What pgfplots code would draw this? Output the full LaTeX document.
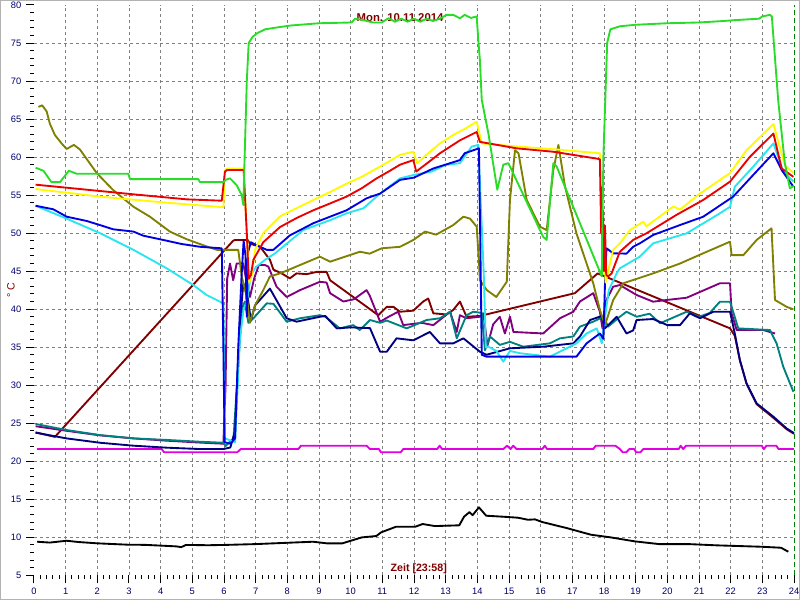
\documentclass[border=0pt]{standalone}
\usepackage{pgfplots}
\pgfplotsset{compat=1.18}
\usepackage{fontspec}
\setmainfont{Liberation Sans}
\definecolor{cgreen}{RGB}{40,220,40}
\definecolor{cyellow}{RGB}{255,250,0}
\definecolor{cred}{RGB}{235,0,0}
\definecolor{cblue}{RGB}{0,0,225}
\definecolor{ccyan}{RGB}{40,230,240}
\definecolor{colive}{RGB}{128,128,0}
\definecolor{cmaroon}{RGB}{128,0,0}
\definecolor{cpurple}{RGB}{128,0,128}
\definecolor{cteal}{RGB}{0,128,128}
\definecolor{cnavy}{RGB}{0,0,128}
\definecolor{cmagenta}{RGB}{225,0,225}
\definecolor{cdkgreen}{RGB}{0,128,0}
\definecolor{darkred}{RGB}{128,0,0}
\definecolor{ticknavy}{RGB}{0,0,110}
\begin{document}
\begin{tikzpicture}
\begin{axis}[
  scale only axis, width=570pt, height=427.7pt,
  xmin=0, xmax=24, ymin=5, ymax=80,
  axis line style={draw=none},
  xtick={0,...,24}, ytick={5,10,...,80},
  minor x tick num=4, minor y tick num=4,
  tick align=outside, xtick pos=left, ytick pos=left,
  major tick length=6pt, minor tick length=3pt,
  tick style={black, line width=0.75pt},
  grid=none,
  extra x ticks={1,...,23}, extra x tick labels={},
  extra y ticks={10,15,...,75}, extra y tick labels={},
  extra tick style={grid=major, major tick length=0pt, minor tick num=0,
     major grid style={gray, line width=0.6pt, dash pattern=on 2.25pt off 2.25pt}},
  ticklabel style={font=\fontsize{7}{8}\selectfont, text=ticknavy},
  /pgf/number format/assume math mode=true,
  ylabel={°\,C},
  ylabel style={at={(axis description cs:-0.0303,0.5)}, anchor=center, text=darkred, font=\fontsize{8}{9}\selectfont},
  clip=false,
  every axis plot/.append style={line width=1.4pt, line join=round, mark=none},
]
\node[font=\bfseries\fontsize{8.5}{10}\selectfont, text=darkred] at (axis cs:11.56,78.4) {Mon. 10.11.2014};
\node[font=\bfseries\fontsize{8}{9}\selectfont, text=darkred] at (axis cs:12.15,5.85) {Zeit [23:58]};
% black
\addplot[black] coordinates {(0.1,9.41)(0.5,9.3)(1.03,9.54)(1.41,9.37)(2.0,9.2)(2.96,9.02)(3.5,9.0)(4.0,8.9)(4.49,8.80)(4.65,8.7)(4.8,8.99)(5.5,8.95)(6.03,8.99)(7.0,9.1)(8.04,9.28)(8.81,9.41)(9.27,9.19)(9.73,9.19)(10.35,9.98)(10.81,10.16)(10.96,10.64)(11.43,11.38)(12.04,11.38)(12.27,11.74)(12.66,11.47)(13.43,11.57)(13.58,12.70)(13.75,13.3)(13.85,12.9)(14.05,13.93)(14.28,12.83)(14.82,12.70)(15.28,12.57)(15.6,12.3)(15.82,12.35)(16.05,12.0)(16.82,11.21)(17.59,10.33)(18.2,9.99)(18.97,9.46)(19.74,9.10)(20.67,9.10)(21.59,8.93)(22.98,8.75)(23.59,8.62)(23.82,8.10)};
% magenta
\addplot[cmagenta] coordinates {(0.1,21.6)(4.03,21.6)(4.11,21.17)(6.42,21.17)(6.53,21.6)(8.35,21.6)(8.43,22.04)(10.5,22.04)(10.61,21.6)(10.89,21.6)(10.96,21.17)(11.58,21.17)(11.66,21.6)(12.73,21.6)(12.81,22.04)(12.89,21.6)(14.82,21.6)(14.94,22.04)(15.05,21.6)(15.13,22.04)(15.24,21.6)(16.05,21.6)(16.13,22.04)(16.2,21.6)(17.66,21.6)(17.74,22.04)(18.36,22.04)(18.5,21.6)(18.59,21.17)(18.7,21.17)(18.8,21.6)(18.95,21.6)(19.02,21.17)(19.15,21.17)(19.24,21.6)(20.36,21.6)(20.42,22.04)(20.5,21.6)(20.59,22.04)(22.98,22.04)(23.05,21.6)(23.13,22.04)(23.44,22.04)(23.51,21.6)(23.82,21.6)(24,21.6)};
% maroon
\addplot[cmaroon] coordinates {(0.05,23.8)(0.66,23.2)(6.29,49.0)(6.35,49.1)(6.75,49.1)(6.82,48.6)(7.14,48.2)(7.45,46.5)(7.56,45.2)(7.82,44.7)(8.08,44.05)(8.29,44.7)(8.61,44.6)(8.93,44.9)(9.24,44.9)(9.35,43.8)(10.08,41.6)(10.87,39.2)(11.14,40.3)(11.35,40.3)(11.56,39.66)(11.98,39.8)(12.29,41.0)(12.45,41.4)(12.61,39.45)(13.03,39.3)(13.24,39.9)(13.45,41.0)(13.66,39.0)(14.08,39.1)(17.08,42.1)(17.8,44.7)(21.98,37.47)(22.13,36.5)(22.29,33.3)(22.5,30.2)(22.82,27.5)(23.35,25.7)(23.77,24.2)(24,23.6)};
% purple
\addplot[cpurple] coordinates {(0.05,24.6)(1.03,24.0)(2.08,23.4)(3.14,23.0)(4.19,22.7)(5.24,22.45)(5.98,22.3)(6.05,30)(6.1,44)(6.19,46.0)(6.29,43.8)(6.4,46.0)(6.61,46.0)(6.72,43.4)(6.82,41.6)(6.95,44)(7.1,45.8)(7.29,45.8)(7.4,45.6)(7.66,42.95)(7.98,41.6)(8.4,42.5)(9.03,43.6)(9.24,43.5)(9.35,42.1)(9.77,41.0)(10.1,41.3)(10.5,42.5)(10.6,41.8)(10.93,38.35)(11.2,39.0)(11.5,39.66)(11.66,37.9)(12.24,38.2)(12.61,37.9)(13.14,39.66)(13.35,37.0)(13.45,39.2)(13.66,38.8)(14.08,39.0)(14.19,39.45)(14.32,35.2)(14.5,38.0)(14.71,39.0)(14.87,36.8)(15.03,39.0)(15.14,37.0)(16.08,36.8)(16.61,38.8)(17.03,39.66)(17.24,41.0)(17.66,42.1)(17.87,39.66)(17.95,37.5)(18.05,41)(18.29,42.95)(18.5,43.17)(19.03,41.86)(19.55,40.98)(19.97,41.2)(20.61,41.5)(21.66,43.4)(21.98,43.4)(22.03,39.45)(22.19,37.25)(23.03,37.25)(23.4,36.8)};
% teal
\addplot[cteal] coordinates {(0.05,24.9)(1.03,24.1)(2.08,23.44)(3.14,23.0)(4.19,22.8)(5.24,22.56)(5.98,22.43)(6.05,22.0)(6.3,23)(6.5,36)(6.6,40.5)(6.66,41.0)(6.77,38.2)(6.93,38.8)(7.35,40.76)(7.56,40.7)(7.98,38.35)(8.4,38.8)(9.03,39.2)(9.2,39.0)(9.66,37.47)(10.08,37.9)(10.29,37.25)(10.61,38.57)(10.93,38.2)(11.14,38.5)(11.77,37.47)(12.4,38.57)(12.82,38.8)(13.14,39.66)(13.35,36.16)(13.66,39.2)(13.87,39.66)(14.14,39.5)(14.24,34.6)(14.4,36.4)(14.71,35.3)(15.03,35.7)(15.45,35.06)(16.29,35.5)(16.61,36.16)(17.03,36.4)(17.24,37.7)(17.66,38.35)(17.98,39.0)(18.13,37.7)(18.5,39.0)(18.71,39.66)(19.03,39.0)(19.44,39.4)(19.77,38.14)(20.61,39.66)(21.0,39.0)(21.34,39.5)(21.66,40.98)(21.98,40.98)(22.24,37.47)(23.24,37.25)(23.45,35.5)(23.66,32.43)(23.98,29.14)};
% navy
\addplot[cnavy] coordinates {(0.05,23.75)(1.03,23.0)(2.08,22.43)(3.14,22.04)(4.19,21.78)(5.24,21.6)(5.98,21.6)(6.2,21.8)(6.35,24)(6.5,38)(6.61,43.4)(6.75,41.5)(6.85,38.5)(6.98,40.5)(7.45,42.7)(7.98,38.8)(8.29,38.35)(9.03,39.0)(9.2,39.1)(9.56,37.47)(10.0,37.6)(10.61,37.5)(10.93,34.4)(11.14,34.4)(11.45,36.16)(11.98,35.9)(12.5,37.0)(12.82,35.5)(13.24,35.5)(13.56,36.16)(14.08,34.4)(14.29,34.0)(15.03,34.85)(16.08,35.06)(17.03,35.5)(17.24,36.4)(17.56,38.57)(17.93,39.1)(18.03,37.47)(18.4,39.0)(18.71,36.8)(18.92,37.2)(19.03,38.57)(19.55,38.7)(20.0,37.9)(20.4,37.9)(20.71,39.45)(21.03,38.8)(21.45,39.66)(21.98,39.66)(22.13,36.8)(22.29,33.3)(22.5,30.24)(22.82,27.6)(23.35,25.85)(23.77,24.3)(24,23.7)};
% olive
\addplot[colive] coordinates {(0.14,66.6)(0.26,66.8)(0.4,66.0)(0.5,64.4)(0.66,62.9)(0.87,61.8)(1.03,61.06)(1.26,61.6)(1.45,61.0)(1.98,57.9)(2.5,55.66)(3.14,53.47)(3.66,52.16)(4.29,50.2)(4.82,49.2)(5.35,48.4)(5.77,47.8)(6.45,47.8)(6.56,44.3)(6.72,41.6)(6.82,38.2)(6.98,40.5)(7.24,42.5)(7.45,44.3)(7.77,44.7)(8.4,45.8)(9.03,46.9)(9.35,46.24)(10.29,47.55)(10.6,47.3)(10.98,48.0)(11.56,48.2)(11.98,49.1)(12.35,50.2)(12.7,49.8)(13.24,51.06)(13.56,52.16)(13.77,51.9)(13.98,50.84)(14.06,45.6)(14.08,43.8)(14.3,42.5)(14.6,41.6)(14.93,43.6)(15.03,54.35)(15.19,60.9)(15.3,60.5)(15.56,54.35)(15.98,50.84)(16.19,50.4)(16.4,58.3)(16.56,61.6)(16.77,56.1)(17.13,49.97)(17.66,43.4)(17.87,39.9)(18.03,37.9)(18.29,41.2)(18.61,43.4)(18.92,43.83)(19.55,44.7)(20.4,46.0)(21.13,47.34)(21.98,48.87)(22.03,47.1)(22.4,47.1)(22.82,49.1)(23.29,50.63)(23.4,41.2)(23.77,40.3)(23.98,39.97)};
% cyan
\addplot[ccyan] coordinates {(0.05,53.6)(1.03,51.9)(2.08,50.0)(3.14,47.8)(4.19,45.37)(5.03,43.17)(5.45,41.86)(5.98,40.76)(6.03,23)(6.35,22.5)(6.5,36)(6.62,40)(6.72,41)(6.85,44.5)(7.0,45.5)(7.3,46.5)(7.6,47.3)(8.5,50.4)(9.35,51.7)(9.87,52.6)(10.4,53.26)(10.93,55.2)(11.56,57.2)(11.98,57.64)(12.56,58.1)(13.0,58.96)(13.45,59.2)(13.82,61.37)(14.03,61.6)(14.2,45)(14.27,35)(14.35,35.06)(14.6,34.5)(14.82,33.1)(15.03,34.5)(15.35,34.2)(16.29,33.75)(17.13,35.5)(17.45,36.8)(17.77,37.47)(17.93,35.5)(18.0,38)(18.15,42.5)(18.4,44.7)(18.5,45.37)(19.13,46.9)(19.55,48.65)(20.61,49.97)(21.66,52.6)(21.98,53.47)(22.13,56.1)(22.71,58.73)(23.35,61.8)(23.66,58.1)(23.98,56.8)};
% blue
\addplot[cblue] coordinates {(0.05,53.6)(0.61,53.13)(1.03,52.16)(1.66,51.6)(2.08,51.06)(2.5,50.5)(3.14,50.2)(3.45,49.66)(4.08,49.1)(4.66,48.57)(5.24,48.2)(5.93,48.0)(5.98,35)(6.02,22.5)(6.2,22.3)(6.35,23)(6.45,35)(6.55,44)(6.62,49.0)(6.68,47)(6.72,39)(6.76,47.5)(6.85,48.8)(7.03,48.4)(7.35,47.8)(7.56,47.8)(8.08,49.7)(8.82,51.3)(9.35,52.16)(9.87,53.0)(10.5,54.57)(10.93,55.2)(11.56,57.0)(12.0,57.3)(12.61,58.5)(13.45,59.6)(13.6,60.5)(14.05,61.15)(14.1,47)(14.14,34)(14.29,33.75)(17.13,33.75)(17.45,35.5)(17.87,36.8)(17.98,36.1)(18.05,46)(18.08,48.0)(18.29,47.34)(18.71,47.3)(18.92,48.2)(19.13,48.65)(19.55,49.75)(20.4,51.06)(21.13,52.15)(22.08,54.8)(22.71,57.64)(23.35,60.5)(23.61,58.3)(23.98,56.1)};
% yellow
\addplot[cyellow] coordinates {(0.05,55.8)(2.08,54.8)(4.19,54.0)(5.98,53.4)(6.03,58.3)(6.1,58.5)(6.62,58.5)(6.7,52)(6.8,43.5)(6.88,44.5)(6.98,47.8)(7.24,50.0)(7.77,52.2)(8.3,53.3)(8.82,54.35)(9.35,55.4)(9.87,56.5)(10.35,57.4)(10.82,58.5)(11.2,59.4)(11.56,60.3)(11.98,60.7)(12.1,59.2)(12.45,60.5)(12.82,61.8)(13.24,62.9)(13.6,63.7)(13.98,64.65)(14.14,61.8)(15.24,61.4)(16.5,61.0)(17.87,60.5)(17.98,49)(18.05,43.5)(18.29,47.8)(18.5,48.65)(18.82,50.4)(19.24,51.5)(19.34,50.9)(20.19,53.5)(20.4,53.1)(21.03,55.2)(21.98,57.9)(22.5,60.9)(23.35,64.35)(23.71,58.95)(23.98,57.9)};
% red
\addplot[cred] coordinates {(0.05,56.37)(1.03,55.97)(3.14,55.1)(4.82,54.44)(5.93,54.26)(6.03,58.1)(6.1,58.3)(6.62,58.3)(6.72,50)(6.78,44.0)(6.85,44.5)(6.93,46.5)(7.24,48.8)(7.77,50.8)(8.3,52.0)(8.82,53.0)(9.35,53.9)(9.87,54.8)(10.35,55.9)(10.82,57.2)(11.2,58.1)(11.56,59.0)(11.98,59.6)(12.07,58.1)(12.45,59.3)(12.82,60.5)(13.45,62.2)(13.98,63.3)(14.08,62.0)(15.24,61.15)(16.4,60.7)(17.77,59.8)(17.87,59.7)(17.91,50)(17.93,56)(17.95,46)(17.97,53)(18.0,45)(18.03,51)(18.07,44.5)(18.13,44.3)(18.24,44.7)(18.5,47.55)(18.92,49.1)(19.34,49.97)(20.29,52.4)(21.13,54.35)(21.98,56.77)(22.61,60.05)(23.35,63.1)(23.61,58.5)(23.98,57.4)};
% green
\addplot[cgreen] coordinates {(0.05,58.6)(0.3,58.2)(0.55,56.7)(0.82,56.7)(1.1,58.2)(1.35,57.8)(2.98,57.8)(3.03,57.1)(5.19,57.1)(5.24,56.7)(5.98,56.7)(6.05,57.0)(6.19,57.2)(6.4,56.3)(6.56,55.0)(6.61,53.7)(6.64,58.3)(6.72,70)(6.78,75.0)(6.9,75.8)(7.05,76.3)(7.3,76.8)(7.6,77.0)(8.1,77.3)(9.0,77.6)(10.03,77.7)(10.14,78.2)(10.4,78.0)(10.71,77.7)(10.98,77.7)(11.19,78.25)(11.4,77.8)(11.6,78.2)(11.8,77.8)(12.0,78.2)(12.2,77.8)(12.4,78.2)(12.6,77.9)(12.82,78.2)(13.03,78.7)(13.24,78.7)(13.45,78.25)(13.6,78.7)(13.8,78.3)(13.98,78.5)(14.03,75.4)(14.08,72.8)(14.14,67.5)(14.35,63.1)(14.63,55.7)(14.82,59.0)(14.98,59.2)(16.08,49.5)(16.19,49.1)(16.4,59.2)(16.5,58.8)(17.93,44.3)(17.98,60)(18.1,75)(18.2,76.8)(18.5,77.2)(19.0,77.4)(20.0,77.6)(21.0,77.7)(21.8,77.9)(22.1,78.0)(22.9,78.2)(23.0,78.5)(23.24,78.7)(23.3,78.5)(23.4,73)(23.5,67.5)(23.71,59.2)(23.87,55.9)(24,56.2)};
% right boundary marker
\addplot[cdkgreen, line width=0.75pt, dash pattern=on 4pt off 2pt] coordinates {(24,5)(24,80)};
\end{axis}
\pgfresetboundingbox
\path[use as bounding box] ([shift={(-25.5pt,-18.5pt)}]current axis.south west) rectangle ([shift={(4.5pt,3.75pt)}]current axis.north east);
\draw[gray!60, line width=0.75pt] ([shift={(-25.1pt,-18.1pt)}]current axis.south west) rectangle ([shift={(4.1pt,3.35pt)}]current axis.north east);
\end{tikzpicture}
\end{document}
